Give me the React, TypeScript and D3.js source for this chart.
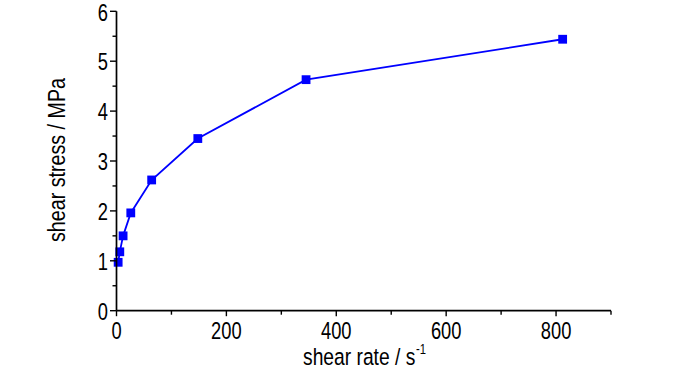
import React from 'react';
import * as d3 from 'd3';

const shearRate = [3, 6, 12, 26, 64, 148, 345, 812];
const shearStress = [0.97, 1.18, 1.5, 1.96, 2.62, 3.45, 4.63, 5.44];
const xMajorTicks = [0, 200, 400, 600, 800];
const xMinorTicks = [100, 300, 500, 700, 900];
const yMajorTicks = [0, 1, 2, 3, 4, 5, 6];
const yMinorTicks = [0.5, 1.5, 2.5, 3.5, 4.5, 5.5];

const W = 700;
const H = 374;
const FONT = '"Liberation Sans", Arial, sans-serif';

export default function App() {
  const x = d3.scaleLinear().domain([0, 900]).range([116.5, 611]);
  const y = d3.scaleLinear().domain([0, 6]).range([310.7, 11.3]);
  const line = d3
    .line<number>()
    .x((_, i) => x(shearRate[i]))
    .y((d) => y(d));
  const ms = 8.8;
  const blue = '#0000FF';
  const sx = 0.78;

  return (
    <svg width={W} height={H} style={{ position: 'absolute', left: 0, top: 0, background: '#fff' }}>
      {/* data line */}
      <path d={line(shearStress) || ''} fill="none" stroke={blue} strokeWidth={1.8} />
      {shearStress.map((v, i) => (
        <rect key={i} x={x(shearRate[i]) - ms / 2} y={y(v) - ms / 2} width={ms} height={ms} fill={blue} />
      ))}
      {/* axes */}
      <line x1={x(0)} x2={x(0)} y1={y(6)} y2={y(0)} stroke="#000" strokeWidth={1.7} />
      <line x1={x(0)} x2={x(900)} y1={y(0)} y2={y(0)} stroke="#000" strokeWidth={1.7} />
      {xMajorTicks.map((t) => (
        <g key={'xM' + t}>
          <line x1={x(t)} x2={x(t)} y1={y(0)} y2={y(0) + 5.5} stroke="#000" strokeWidth={1.4} />
          <text
            transform={`translate(${x(t)},${y(0) + 28.6}) scale(${sx},1)`}
            textAnchor="middle"
            fontFamily={FONT}
            fontSize={23.5}
            fill="#000"
          >
            {t}
          </text>
        </g>
      ))}
      {xMinorTicks.map((t) => (
        <line key={'xm' + t} x1={x(t)} x2={x(t)} y1={y(0)} y2={y(0) + 4} stroke="#000" strokeWidth={1.4} />
      ))}
      {yMajorTicks.map((t) => (
        <g key={'yM' + t}>
          <line x1={x(0) - 6.5} x2={x(0)} y1={y(t)} y2={y(t)} stroke="#000" strokeWidth={1.4} />
          <text
            transform={`translate(108,${y(t) + 9.2}) scale(${sx},1)`}
            textAnchor="end"
            fontFamily={FONT}
            fontSize={23.5}
            fill="#000"
          >
            {t}
          </text>
        </g>
      ))}
      {yMinorTicks.map((t) => (
        <line key={'ym' + t} x1={x(0) - 4} x2={x(0)} y1={y(t)} y2={y(t)} stroke="#000" strokeWidth={1.4} />
      ))}
      {/* x label */}
      <text
        transform={`translate(303,365) scale(0.82,1)`}
        textAnchor="start"
        fontFamily={FONT}
        fontSize={23.5}
        fill="#000"
      >
        shear rate / s
      </text>
      <text
        transform={`translate(416,354) scale(0.75,1)`}
        textAnchor="start"
        fontFamily={FONT}
        fontSize={15}
        fill="#000"
      >
        -1
      </text>
      {/* y label */}
      <text
        transform={`translate(65,160) rotate(-90) scale(0.82,1)`}
        textAnchor="middle"
        fontFamily={FONT}
        fontSize={24}
        fill="#000"
      >
        shear stress / MPa
      </text>
    </svg>
  );
}
